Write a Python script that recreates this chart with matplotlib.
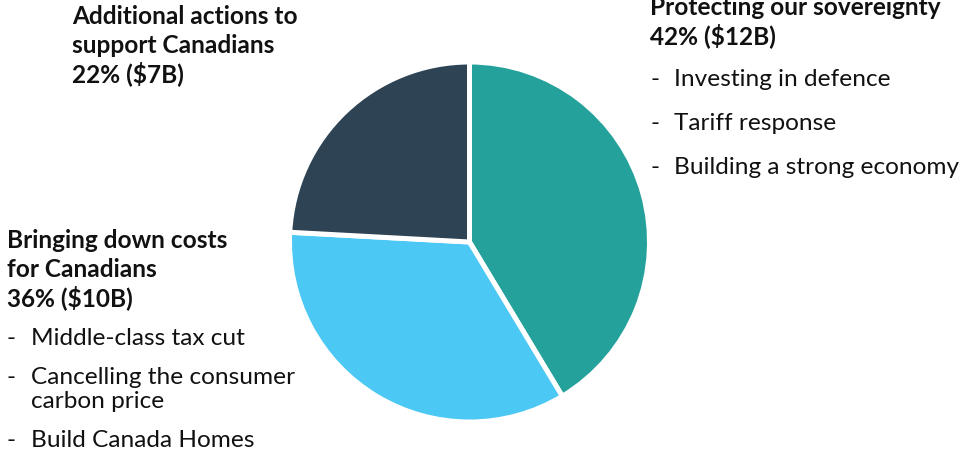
import matplotlib
matplotlib.use("Agg")
import matplotlib.pyplot as plt

# Budget split, in billions of dollars
categories = ["Protecting our sovereignty", "Bringing down costs for Canadians",
              "Additional actions to support Canadians"]
amounts = [12, 10, 7]
shares = [42, 36, 22]
colors = ["#24A19B", "#4BC8F3", "#2E4454"]

sovereignty_items = ["Investing in defence", "Tariff response", "Building a strong economy"]
costs_items = ["Middle-class tax cut", "Cancelling the consumer\ncarbon price", "Build Canada Homes"]

W, H = 969, 454
plt.rcParams["font.family"] = ["Lato", "DejaVu Sans"]

fig = plt.figure(figsize=(W / 100, H / 100), dpi=100)

# pie axes, placed in pixel terms
cx, cy, r = 469.5, 242, 180
ax = fig.add_axes([(cx - r) / W, 1 - (cy + r) / H, 2 * r / W, 2 * r / H])
ax.pie(amounts, colors=colors, startangle=90, counterclock=False, radius=1,
       wedgeprops=dict(edgecolor="white", linewidth=3.6))
ax.set_xlim(-1, 1)
ax.set_ylim(-1, 1)
ax.axis("off")

fs = 17.6


def put(x, y, s, bold=False):
    fig.text(x / W, 1 - y / H, s, fontsize=fs, color="#111111",
             fontweight="bold" if bold else "normal", va="baseline", ha="left")


def bullets(x, y0, items, step, wrap_step):
    y = y0
    for item in items:
        lines = item.split("\n")
        put(x, y, "-")
        for j, ln in enumerate(lines):
            put(x + 24, y + j * wrap_step, ln)
        y += step + (len(lines) - 1) * wrap_step


# top right block
put(650, 15, categories[0], bold=True)
put(650, 44, f"{shares[0]}% (${amounts[0]}B)", bold=True)
bullets(650, 86, sovereignty_items, 44, 24)

# top left block
put(72, 24, "Additional actions to", bold=True)
put(72, 53, "support Canadians", bold=True)
put(72, 82, f"{shares[2]}% (${amounts[2]}B)", bold=True)

# lower left block
put(7, 248, "Bringing down costs", bold=True)
put(7, 277, "for Canadians", bold=True)
put(7, 306, f"{shares[1]}% (${amounts[1]}B)", bold=True)
bullets(7, 345, costs_items, 39, 24)

fig.savefig("out.png", dpi=100, facecolor="white")
